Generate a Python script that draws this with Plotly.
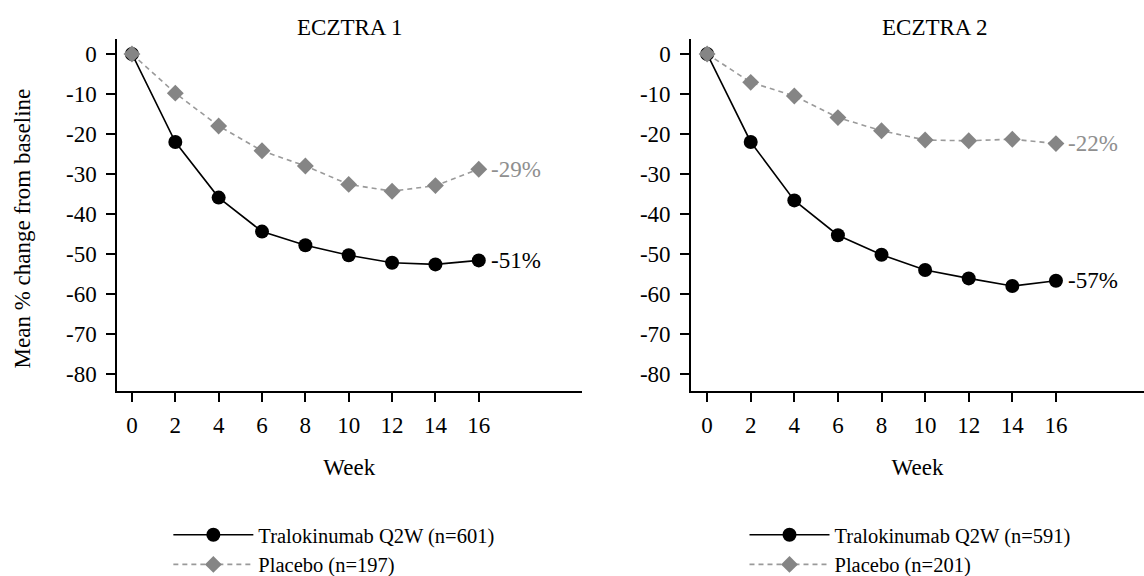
import plotly.graph_objects as go

weeks = [0, 2, 4, 6, 8, 10, 12, 14, 16]
tick_vals_y = [0, -10, -20, -30, -40, -50, -60, -70, -80]
tick_text_y = ["0", "-10", "-20", "-30", "-40", "-50", "-60", "-70", "-80"]
tick_vals_x = [0, 2, 4, 6, 8, 10, 12, 14, 16]

panel_titles = ["ECZTRA 1", "ECZTRA 2"]
y_title = "Mean % change from baseline"
x_title = "Week"

e1_tralo = [0, -22.0, -35.9, -44.4, -47.8, -50.3, -52.2, -52.6, -51.6]
e1_placebo = [0, -9.8, -18.0, -24.2, -28.0, -32.6, -34.3, -32.9, -28.8]
e2_tralo = [0, -22.0, -36.6, -45.3, -50.2, -54.0, -56.1, -58.0, -56.7]
e2_placebo = [0, -7.1, -10.5, -15.9, -19.2, -21.5, -21.7, -21.3, -22.4]

e1_names = ["Tralokinumab Q2W (n=601)", "Placebo (n=197)"]
e2_names = ["Tralokinumab Q2W (n=591)", "Placebo (n=201)"]
end_labels = [["-51%", "-29%"], ["-57%", "-22%"]]

FONT = "Liberation Serif"
FS = 23
LFS = 20.5
BLACK = "#000000"
GREY_M = "#858585"
GREY_L = "#9a9a9a"
GREY_T = "#8f8f8f"

fig = go.Figure()

panels = [
    (e1_tralo, e1_placebo, e1_names, "x", "y", "legend"),
    (e2_tralo, e2_placebo, e2_names, "x2", "y2", "legend2"),
]

for i, (tr, pl, names, xa, ya, lg) in enumerate(panels):
    fig.add_trace(go.Scatter(
        x=weeks, y=tr, mode="lines+markers", name=names[0],
        line=dict(color=BLACK, width=1.6),
        marker=dict(symbol="circle", size=14, color=BLACK),
        xaxis=xa, yaxis=ya, legend=lg, cliponaxis=False,
    ))
    fig.add_trace(go.Scatter(
        x=weeks, y=pl, mode="lines+markers", name=names[1],
        line=dict(color=GREY_L, width=1.6, dash="5px,4px"),
        marker=dict(symbol="diamond", size=13, color=GREY_M),
        xaxis=xa, yaxis=ya, legend=lg, cliponaxis=False,
    ))
    fig.add_annotation(x=weeks[-1], y=tr[-1], xref=xa, yref=ya,
                       text=end_labels[i][0], showarrow=False, xanchor="left",
                       xshift=10, font=dict(family=FONT, size=FS, color=BLACK))
    fig.add_annotation(x=weeks[-1], y=pl[-1], xref=xa, yref=ya,
                       text=end_labels[i][1], showarrow=False, xanchor="left",
                       xshift=10, font=dict(family=FONT, size=FS, color=GREY_T))

axis_common = dict(
    showgrid=False, zeroline=False, showline=True, linecolor=BLACK, linewidth=1.5,
    ticks="outside", ticklen=9, tickwidth=1.5, tickcolor=BLACK,
    tickfont=dict(family=FONT, size=FS, color=BLACK), automargin=False,
)
xaxis_extra = dict(tickvals=tick_vals_x, ticklabelstandoff=4,
                   title=dict(text=x_title, standoff=22, font=dict(family=FONT, size=FS)))
yaxis_extra = dict(domain=[0, 1], range=[-84.24, 3.74], tickvals=tick_vals_y,
                   ticktext=tick_text_y, ticklabelstandoff=5)

fig.update_layout(
    width=1144, height=576,
    paper_bgcolor="white", plot_bgcolor="white",
    margin=dict(l=117, r=0, t=39, b=185, autoexpand=False),
    font=dict(family=FONT, size=FS, color=BLACK),
    xaxis=dict(domain=[0, 0.4523], range=[-0.69, 20.74], anchor="y",
               **xaxis_extra, **axis_common),
    yaxis=dict(anchor="x", **yaxis_extra, **axis_common),
    xaxis2=dict(domain=[0.5589, 1], range=[-0.74, 20.04], anchor="y2",
                **xaxis_extra, **axis_common),
    yaxis2=dict(anchor="x2", **yaxis_extra, **axis_common),
    legend=dict(x=0.05, y=-0.352, xanchor="left", yanchor="top", orientation="v",
                font=dict(family=FONT, size=LFS), itemwidth=80, tracegroupgap=0,
                bgcolor="rgba(0,0,0,0)"),
    legend2=dict(x=0.611, y=-0.352, xanchor="left", yanchor="top", orientation="v",
                 font=dict(family=FONT, size=LFS), itemwidth=80, tracegroupgap=0,
                 bgcolor="rgba(0,0,0,0)"),
    showlegend=True,
)

for i, t in enumerate(panel_titles):
    fig.add_annotation(x=[0.2262, 0.796][i], y=1.034, xref="paper", yref="paper",
                       text=t, showarrow=False, xanchor="center", yanchor="middle",
                       font=dict(family=FONT, size=FS, color=BLACK))

fig.add_annotation(x=-0.0925, y=0.4618, xref="paper", yref="paper", text=y_title,
                   textangle=-90, showarrow=False, xanchor="center", yanchor="middle",
                   font=dict(family=FONT, size=FS, color=BLACK))

fig.write_html("out.html")
